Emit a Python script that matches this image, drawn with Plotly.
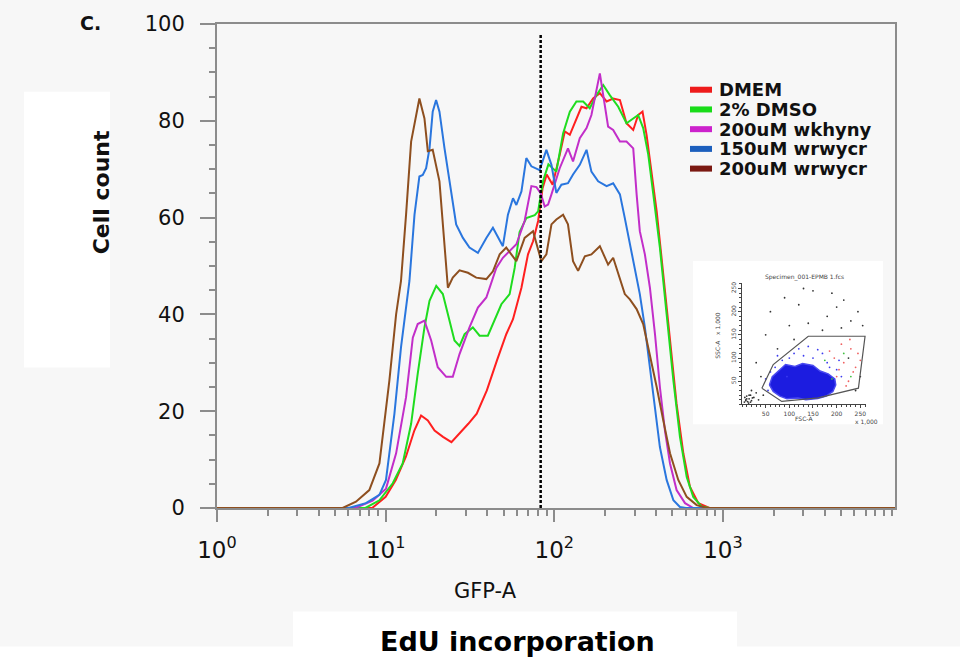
import numpy as np
import plotly.graph_objects as go

# ---------------- data ----------------
series_names = ["DMEM", "2% DMSO", "200uM wkhyny", "150uM wrwycr", "200uM wrwycr"]

# x positions given as log10(GFP-A)
dmem_logx = [0, 0.92, 1.00, 1.06, 1.12, 1.17, 1.21, 1.25, 1.29, 1.34, 1.39, 1.44, 1.49, 1.54, 1.60, 1.66,
             1.715, 1.755, 1.805, 1.844, 1.874, 1.904, 1.93, 1.955, 1.99, 2.032, 2.062, 2.092, 2.131, 2.161,
             2.191, 2.23, 2.27, 2.31, 2.349, 2.389, 2.428, 2.468, 2.497, 2.523, 2.547, 2.577, 2.607, 2.646,
             2.686, 2.725, 2.765, 2.804, 2.854, 2.92, 4.02]
dmem_y = [0, 0, 2.3, 5.8, 10.6, 16, 19.1, 18.1, 16, 14.7, 13.6, 15.4, 17.4, 19.5, 24.3, 30.5,
          35.9, 39, 45.5, 52.4, 55.1, 59.3, 66, 68.9, 66.8, 73, 77.8, 77.1, 80.2, 82.9,
          82.6, 84.6, 85.7, 84, 84.6, 84.3, 79.5, 78.1, 81.2, 81.9, 77.1, 69.5, 61.3, 48.3,
          34.6, 21.5, 11.3, 4.4, 1, 0, 0]

dmso_logx = [0, 0.88, 0.963, 1.042, 1.101, 1.151, 1.19, 1.23, 1.26, 1.30, 1.339, 1.379, 1.408, 1.438, 1.468,
             1.517, 1.557, 1.606, 1.646, 1.686, 1.735, 1.765, 1.794, 1.834, 1.884, 1.904, 1.933, 1.965, 2.012,
             2.052, 2.092, 2.131, 2.171, 2.21, 2.25, 2.29, 2.329, 2.379, 2.428, 2.468, 2.497, 2.527, 2.557,
             2.587, 2.626, 2.666, 2.706, 2.745, 2.785, 2.824, 2.874, 2.92, 4.02]
dmso_y = [0, 0, 1.6, 5.1, 9.2, 17.4, 27.7, 37.3, 42.8, 45.9, 44.2, 38.7, 34.6, 33.5, 35.9,
          37.3, 35.6, 35.6, 38.7, 42.1, 44.2, 49.6, 57, 59.9, 60.5, 61.3, 67.5, 71, 69.5,
          77.4, 81.9, 84, 84, 82.6, 85.3, 87.4, 85.3, 82.9, 79.5, 80.5, 81.2, 78.5, 73,
          64.8, 53.8, 40, 26.3, 14.7, 6.4, 2.3, 0.3, 0, 0]

wkhyny_logx = [0, 0.82, 0.923, 1.002, 1.062, 1.121, 1.161, 1.19, 1.23, 1.27, 1.309, 1.359, 1.398, 1.438, 1.497,
               1.547, 1.597, 1.656, 1.695, 1.735, 1.775, 1.824, 1.864, 1.894, 1.92, 1.943, 1.963, 1.983, 2.032,
               2.081, 2.111, 2.151, 2.191, 2.22, 2.25, 2.27, 2.29, 2.319, 2.349, 2.389, 2.428, 2.468, 2.488,
               2.507, 2.537, 2.567, 2.597, 2.626, 2.656, 2.686, 2.725, 2.775, 2.824, 4.02]
wkhyny_y = [0, 0, 1.5, 4, 11.3, 22.9, 35.2, 38, 38.7, 34.6, 29.1, 27.1, 27.1, 31.8, 37.3,
            41.4, 43.5, 49.6, 51.7, 53.1, 54.5, 59.3, 66.5, 66.3, 65, 62.3, 62.7, 64.8, 70.2,
            74.3, 71.6, 76.4, 78.5, 81.2, 86, 89.8, 85.3, 78.8, 78.1, 75.7, 75.7, 74.3, 64.8,
            57.2, 52.4, 45.5, 35.9, 25, 16, 9.2, 3.7, 1, 0, 0]

w150_logx = [0, 0.78, 0.883, 0.963, 1.002, 1.052, 1.091, 1.141, 1.171, 1.2, 1.22, 1.24, 1.26, 1.279, 1.299,
             1.319, 1.349, 1.379, 1.418, 1.458, 1.497, 1.547, 1.597, 1.636, 1.666, 1.695, 1.725, 1.755, 1.775,
             1.805, 1.834, 1.864, 1.913, 1.953, 1.983, 2.012, 2.042, 2.081, 2.111, 2.151, 2.191, 2.22, 2.26,
             2.31, 2.349, 2.389, 2.418, 2.448, 2.478, 2.507, 2.537, 2.567, 2.597, 2.626, 2.666, 2.706, 2.745,
             2.78, 4.02]
w150_y = [0, 0, 1, 2.7, 5.8, 19.5, 33.2, 46.9, 60.6, 68.5, 68.8, 70.2, 74.3, 81.9, 84.3,
          81.9, 74.3, 67.5, 58.6, 55.8, 53.8, 52.7, 55.8, 57.9, 55.8, 54.1, 60.6, 64, 62.6,
          65.4, 72.3, 70.6, 69.8, 74, 70.9, 65.1, 66.8, 67.1, 68.9, 70.9, 74, 69.5, 67.5,
          66.5, 67.1, 64.8, 59.9, 54.8, 49.6, 44.2, 37.3, 29.1, 20.2, 12.6, 5.8, 1.6, 0.2,
          0, 0]

w200_logx = [0, 0.745, 0.824, 0.903, 0.963, 1.022, 1.062, 1.091, 1.121, 1.151, 1.2, 1.23, 1.25, 1.279, 1.319,
             1.349, 1.369, 1.398, 1.438, 1.488, 1.537, 1.597, 1.636, 1.676, 1.715, 1.745, 1.775, 1.824, 1.874,
             1.923, 1.953, 1.983, 2.012, 2.052, 2.081, 2.111, 2.141, 2.181, 2.22, 2.27, 2.319, 2.349, 2.389,
             2.418, 2.448, 2.488, 2.527, 2.567, 2.607, 2.646, 2.686, 2.735, 2.785, 2.844, 2.904, 4.02]
w200_y = [0, 0, 1.3, 3.7, 9.2, 26.3, 40, 46.9, 60.6, 75.7, 84.6, 80.5, 73.7, 74, 67.5,
          53.8, 45.5, 47.6, 49.1, 48.6, 47.6, 47.3, 48.9, 52.4, 53.8, 52.4, 51, 55.8, 57.2,
          51, 52.4, 58.6, 59.6, 60.6, 58.6, 51, 49, 52, 52.4, 54.1, 50.3, 51.7, 47.6,
          44.2, 43.1, 41.1, 38, 31.8, 25, 18.1, 11.3, 5.8, 2.3, 0.6, 0, 0]

gate_value = 83          # dotted gate line on GFP-A
gate_top = 98

y_ticks = [0, 20, 40, 60, 80, 100]
x_ticks = [1, 10, 100, 1000]
x_ticktext = ["10<sup>0</sup>", "10<sup>1</sup>", "10<sup>2</sup>", "10<sup>3</sup>"]

# inset (FSC-A vs SSC-A dot plot, x1000)
inset_ticks = [50, 100, 150, 200, 250]
gate_fsc = [42, 66, 140, 260, 246, 161, 84, 42]
gate_ssc = [35, 86, 147, 147, 35, 14, 6.5, 35]
blob_fsc = [58, 66, 80, 95, 118, 135, 160, 178, 192, 198, 196, 182, 165, 150, 128, 112, 92, 78, 64, 58]
blob_ssc = [42, 28, 18, 12, 14, 10, 13, 18, 28, 42, 55, 66, 72, 84, 88, 82, 86, 74, 60, 42]
blue_fsc = [60, 85, 110, 150, 180, 200, 55, 170, 120, 95, 75, 140, 205, 160, 70, 100, 130, 185, 210, 50]
blue_ssc = [70, 95, 110, 100, 90, 75, 30, 110, 120, 60, 105, 125, 95, 118, 80, 100, 105, 80, 60, 55]
gray_fsc = [60, 90, 120, 150, 180, 200, 230, 100, 140, 170, 210, 245, 50, 75, 110, 30, 40, 20, 15, 10,
            25, 8, 18, 30, 35, 45, 225, 250, 240, 5, 8, 12, 15, 10, 20, 6, 22, 14, 18, 130, 190, 215, 255]
gray_ssc = [200, 230, 215, 245, 190, 210, 180, 170, 175, 160, 165, 200, 150, 120, 140, 90, 60, 30, 20, 12,
            15, 8, 5, 25, 10, 20, 100, 60, 30, 5, 10, 6, 12, 18, 8, 15, 14, 3, 20, 250, 240, 225, 170]
red_fsc = [200, 215, 230, 240, 210, 225, 245, 195, 235, 220, 250, 205, 185, 228]
red_ssc = [60, 90, 120, 80, 130, 50, 110, 100, 70, 40, 95, 75, 115, 140]
green_fsc = [190, 230, 215, 175]
green_ssc = [55, 60, 110, 95]

line_colors = ["#ff1f1f", "#1fdc1f", "#c22ec9", "#2a76de", "#8e4f1f"]
legend_colors = ["#ee1b1b", "#19dc19", "#cc22cc", "#1c5fbd", "#7b1912"]

# ---------------- geometry helpers (pixel -> paper) ----------------
L, R, T, B = 217, 895, 22, 508
W, H = 960, 662


def px(x):
    return (x - L) / (R - L)


def py(y):
    return (B - y) / (B - T)


fig = go.Figure()

all_logx = [dmem_logx, dmso_logx, wkhyny_logx, w150_logx, w200_logx]
all_y = [dmem_y, dmso_y, wkhyny_y, w150_y, w200_y]
for name, lx, yy, col in zip(series_names, all_logx, all_y, line_colors):
    fig.add_trace(go.Scatter(
        x=np.power(10.0, lx), y=yy, mode="lines", name=name,
        line=dict(color=col, width=2), showlegend=False, hoverinfo="skip"))

# dotted gate line
fig.add_trace(go.Scatter(x=[gate_value, gate_value], y=[0, gate_top], mode="lines",
                         line=dict(color="black", width=2.5, dash="3px,2px"),
                         showlegend=False, hoverinfo="skip"))

# ---------------- inset ----------------
fig.add_trace(go.Scatter(x=gray_fsc, y=gray_ssc, mode="markers", xaxis="x2", yaxis="y2",
                         marker=dict(color="#333333", size=1.8), showlegend=False, hoverinfo="skip"))
fig.add_trace(go.Scatter(x=blob_fsc, y=blob_ssc, mode="lines", fill="toself", xaxis="x2", yaxis="y2",
                         fillcolor="#1c1ce0", line=dict(color="#4a4af0", width=1.5),
                         showlegend=False, hoverinfo="skip"))
fig.add_trace(go.Scatter(x=blue_fsc, y=blue_ssc, mode="markers", xaxis="x2", yaxis="y2",
                         marker=dict(color="#3b3bf0", size=1.8), showlegend=False, hoverinfo="skip"))
fig.add_trace(go.Scatter(x=red_fsc, y=red_ssc, mode="markers", xaxis="x2", yaxis="y2",
                         marker=dict(color="#f06060", size=1.8), showlegend=False, hoverinfo="skip"))
fig.add_trace(go.Scatter(x=green_fsc, y=green_ssc, mode="markers", xaxis="x2", yaxis="y2",
                         marker=dict(color="#40c040", size=1.8), showlegend=False, hoverinfo="skip"))
fig.add_trace(go.Scatter(x=gate_fsc, y=gate_ssc, mode="lines", xaxis="x2", yaxis="y2",
                         line=dict(color="#555555", width=1.2), showlegend=False, hoverinfo="skip"))

axis_gray = "#8c8c8c"
tick_font = dict(family="DejaVu Sans", size=21, color="#111111")
inset_font = dict(family="DejaVu Sans", size=6, color="#444")

fig.update_layout(
    width=W, height=H,
    margin=dict(l=L, r=W - R, t=T, b=H - B, pad=0),
    paper_bgcolor="#f7f7f7",
    plot_bgcolor="rgba(0,0,0,0)",
    showlegend=False,
    xaxis=dict(
        type="log", range=[0, 4.02],
        tickmode="array", tickvals=x_ticks, ticktext=x_ticktext,
        ticks="outside", ticklen=12, tickwidth=2, tickcolor=axis_gray,
        minor=dict(ticks="outside", ticklen=6, tickwidth=1.5, tickcolor=axis_gray, dtick="D1", showgrid=False),
        showline=True, linecolor=axis_gray, linewidth=2, mirror=True,
        showgrid=False, zeroline=False,
        tickfont=dict(family="DejaVu Sans", size=23, color="#111111"),
        ticklabelstandoff=8,
    ),
    yaxis=dict(
        range=[0, 100],
        tickmode="array", tickvals=y_ticks,
        ticks="outside", ticklen=15, tickwidth=2, tickcolor=axis_gray,
        minor=dict(ticks="outside", ticklen=6, tickwidth=1.5, tickcolor=axis_gray, dtick=5, showgrid=False),
        showline=True, linecolor=axis_gray, linewidth=2, mirror=True,
        showgrid=False, zeroline=False,
        tickfont=tick_font,
        ticklabelstandoff=11,
    ),
    xaxis2=dict(
        domain=[px(742), px(866)], anchor="y2", range=[0, 262],
        tickmode="array", tickvals=inset_ticks,
        ticks="outside", ticklen=3, tickwidth=1, tickcolor="#444",
        minor=dict(ticks="outside", ticklen=2, tickcolor="#444", dtick=10),
        showline=True, linecolor="#444", linewidth=1, showgrid=False, zeroline=False,
        tickfont=inset_font,
    ),
    yaxis2=dict(
        domain=[py(404), py(282)], anchor="x2", range=[0, 262],
        tickmode="array", tickvals=inset_ticks,
        ticks="outside", ticklen=3, tickwidth=1, tickcolor="#444",
        minor=dict(ticks="outside", ticklen=2, tickcolor="#444", dtick=10),
        showline=True, linecolor="#444", linewidth=1, showgrid=False, zeroline=False,
        tickangle=-90,
        tickfont=inset_font,
    ),
)

# white panels of the original figure
shapes = [
    dict(type="rect", xref="paper", yref="paper", x0=px(24), x1=px(110), y0=py(367), y1=py(90),
         fillcolor="white", line=dict(width=0), layer="below"),
    dict(type="rect", xref="paper", yref="paper", x0=px(293), x1=px(737), y0=py(664), y1=py(612),
         fillcolor="white", line=dict(width=0), layer="below"),
    dict(type="rect", xref="paper", yref="paper", x0=px(0), x1=px(960), y0=py(664), y1=py(647),
         fillcolor="white", line=dict(width=0), layer="below"),
    dict(type="rect", xref="paper", yref="paper", x0=px(693), x1=px(883), y0=py(424), y1=py(260),
         fillcolor="white", line=dict(width=0), layer="below"),
]

# custom legend
annotations = []
row0, row_gap = 88, 19.8
for i, (name, col) in enumerate(zip(series_names, legend_colors)):
    yrow = row0 + i * row_gap
    shapes.append(dict(type="line", xref="paper", yref="paper", x0=px(690), x1=px(712),
                       y0=py(yrow), y1=py(yrow), line=dict(color=col, width=6)))
    annotations.append(dict(xref="paper", yref="paper", x=px(717), y=py(yrow), text=name,
                            showarrow=False, xanchor="left", yanchor="middle",
                            font=dict(family="DejaVu Sans", size=18, color="#111", weight="bold")))

annotations += [
    dict(xref="paper", yref="paper", x=px(90), y=py(21), text="C.", showarrow=False,
         xanchor="center", yanchor="middle",
         font=dict(family="DejaVu Sans", size=19, color="#111", weight="bold")),
    dict(xref="paper", yref="paper", x=px(101), y=py(191), text="Cell count", showarrow=False,
         textangle=-90, xanchor="center", yanchor="middle",
         font=dict(family="DejaVu Sans", size=22, color="#111", weight="bold")),
    dict(xref="paper", yref="paper", x=px(485), y=py(591), text="GFP-A", showarrow=False,
         xanchor="center", yanchor="middle",
         font=dict(family="DejaVu Sans", size=21, color="#111")),
    dict(xref="paper", yref="paper", x=px(517), y=py(642), text="EdU incorporation", showarrow=False,
         xanchor="center", yanchor="middle",
         font=dict(family="DejaVu Sans", size=27, color="#000", weight="bold")),
    # inset texts
    dict(xref="paper", yref="paper", x=px(804), y=py(282), text="Specimen_001-EPMB 1.fcs",
         showarrow=False, xanchor="center", yanchor="bottom", font=inset_font),
    dict(xref="paper", yref="paper", x=px(718), y=py(335), text="SSC-A   x 1,000", showarrow=False,
         textangle=-90, xanchor="center", yanchor="middle", font=inset_font),
    dict(xref="paper", yref="paper", x=px(804), y=py(418), text="FSC-A", showarrow=False,
         xanchor="center", yanchor="middle", font=inset_font),
    dict(xref="paper", yref="paper", x=px(866), y=py(421), text="x 1,000", showarrow=False,
         xanchor="center", yanchor="middle", font=inset_font),
]

fig.update_layout(shapes=shapes, annotations=annotations)
fig.write_html("out.html")
